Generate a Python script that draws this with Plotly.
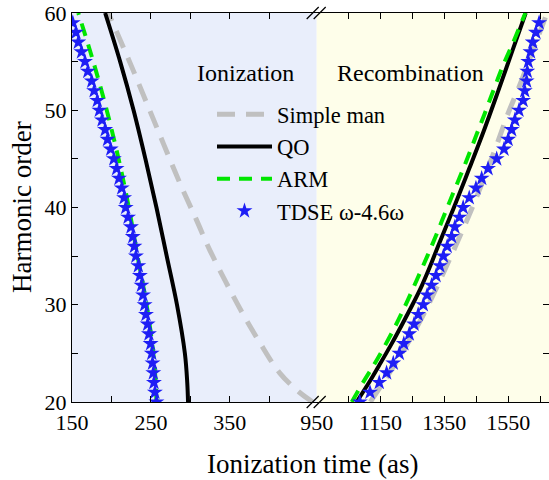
import plotly.graph_objects as go

# ---------------- data ----------------
tdse_orders = list(range(20, 60))
tdse_ion = [257, 255, 253.8, 253, 252, 251, 249.6, 247.5, 245.8, 243.7,
            242, 240, 238, 236, 234, 231, 229, 227, 224.7, 221,
            218, 216, 213, 209.5, 206.5, 203, 199, 195, 192, 188,
            184.6, 182, 178, 175, 170, 166.5, 162, 158, 155, 151]
tdse_rec = [1085, 1117, 1146, 1169, 1190, 1209, 1223, 1240, 1255, 1268,
            1284, 1296, 1310, 1324, 1336, 1347, 1359, 1373, 1383, 1397,
            1409, 1428, 1449, 1467, 1487, 1514, 1537, 1550, 1561, 1571,
            1584, 1597, 1602, 1608, 1610, 1613, 1620, 1627, 1637, 1647]

qo_ion_orders = [20, 22, 25, 30, 35, 40, 45, 50, 55, 60]
qo_ion = [297, 296, 293, 283, 270, 257, 243, 228, 211, 192]
qo_rec_orders = [20, 22, 24, 26, 28, 30, 32, 34, 36, 40, 44, 48, 52, 56, 60]
qo_rec = [1075, 1114, 1150, 1185, 1218, 1250, 1280, 1306, 1330, 1380, 1428, 1475, 1519, 1562, 1605]

arm_ion_orders = [20, 22, 25, 30, 35, 40, 45, 50, 55, 60]
arm_ion = [257, 256, 253, 244.5, 233, 222, 209, 194, 177, 158]
arm_rec_orders = [20, 22, 24.3, 27.4, 29.8, 32.5, 35.1, 37.2, 39.9, 42.3, 44.7, 47.5, 49.7, 52.4, 54.6, 57, 60]
arm_rec = [1060, 1095, 1138, 1190, 1226, 1263, 1298, 1325, 1358, 1388, 1418, 1451, 1477, 1508, 1534, 1566, 1604]

sm_ion_orders = [20, 21, 23, 26.1, 29.3, 35.6, 38.7, 42.5, 48.7, 54.9, 60]
sm_ion = [455, 438, 413, 388, 364.8, 324.7, 307.8, 286.7, 255, 223.4, 196]
sm_rec_orders = [20, 23.6, 26.7, 29.6, 33.2, 39.8, 45.9, 49.7, 52.4, 56.2, 60]
sm_rec = [1118, 1190, 1247, 1294, 1346, 1435, 1508, 1550, 1584, 1628, 1672]

x1_ticks = [150, 200, 250, 300, 350, 400]
x1_labels = ["150", "", "250", "", "350", ""]
x2_ticks = [950, 1050, 1150, 1250, 1350, 1450, 1550, 1650]
x2_labels = ["950", "", "1150", "", "1350", "", "1550", ""]
y_ticks = [20, 25, 30, 35, 40, 45, 50, 55, 60]
y_labels = ["20", "", "30", "", "40", "", "50", "", "60"]

# ---------------- style ----------------
FONT = "Times New Roman, Liberation Serif, Tinos, DejaVu Serif, serif"
GRAY = "#C0C0C0"
GREEN = "#00E600"
BLUE = "#1E1EF5"

fig = go.Figure()

# left panel (ionization)
fig.add_trace(go.Scatter(x=sm_ion, y=sm_ion_orders, mode="lines", name="Simple man",
                         line=dict(color=GRAY, width=5, dash="18px,11px", shape="spline"),
                         xaxis="x", yaxis="y", legendgroup="sm"))
fig.add_trace(go.Scatter(x=qo_ion, y=qo_ion_orders, mode="lines", name="QO",
                         line=dict(color="black", width=4, shape="spline"),
                         xaxis="x", yaxis="y", legendgroup="qo"))
fig.add_trace(go.Scatter(x=arm_ion, y=arm_ion_orders, mode="lines", name="ARM",
                         line=dict(color=GREEN, width=4, dash="13px,9px", shape="spline"),
                         xaxis="x", yaxis="y", legendgroup="arm"))
fig.add_trace(go.Scatter(x=tdse_ion, y=tdse_orders, mode="markers", name="TDSE ω-4.6ω",
                         marker=dict(symbol="star", size=12, color=BLUE, line=dict(width=0)),
                         xaxis="x", yaxis="y", legendgroup="tdse"))

# right panel (recombination)
fig.add_trace(go.Scatter(x=sm_rec, y=sm_rec_orders, mode="lines", showlegend=False,
                         line=dict(color=GRAY, width=5, dash="18px,11px", shape="spline"),
                         xaxis="x2", yaxis="y2", legendgroup="sm"))
fig.add_trace(go.Scatter(x=qo_rec, y=qo_rec_orders, mode="lines", showlegend=False,
                         line=dict(color="black", width=4, shape="spline"),
                         xaxis="x2", yaxis="y2", legendgroup="qo"))
fig.add_trace(go.Scatter(x=arm_rec, y=arm_rec_orders, mode="lines", showlegend=False,
                         line=dict(color=GREEN, width=4, dash="13px,9px", shape="spline"),
                         xaxis="x2", yaxis="y2", legendgroup="arm"))
fig.add_trace(go.Scatter(x=tdse_rec, y=tdse_orders, mode="markers", showlegend=False,
                         marker=dict(symbol="star", size=12, color=BLUE, line=dict(width=0)),
                         xaxis="x2", yaxis="y2", legendgroup="tdse"))

split = 0.513
axis_common = dict(showline=True, linecolor="black", linewidth=1.3, ticks="inside",
                   ticklen=6, tickwidth=1.3, tickcolor="black", showgrid=False,
                   zeroline=False, ticklabeloverflow="allow",
                   tickfont=dict(family=FONT, size=22, color="black"))

fig.update_layout(
    width=549, height=480,
    margin=dict(l=72, r=0, t=13, b=78),
    paper_bgcolor="white", plot_bgcolor="white",
    font=dict(family=FONT, color="black"),
    xaxis=dict(domain=[0, split], range=[150, 460], anchor="y", mirror="ticks",
               tickmode="array", tickvals=x1_ticks, ticktext=x1_labels, **axis_common),
    xaxis2=dict(domain=[split, 1], range=[950, 1678], anchor="y2", mirror="ticks",
                tickmode="array", tickvals=x2_ticks, ticktext=x2_labels, **axis_common),
    yaxis=dict(domain=[0, 1], range=[20, 60], anchor="x",
               tickmode="array", tickvals=y_ticks, ticktext=y_labels, **axis_common),
    yaxis2=dict(domain=[0, 1], range=[20, 60], anchor="x2", side="right",
                tickmode="array", tickvals=y_ticks, showticklabels=False,
                **{k: v for k, v in axis_common.items() if k != "tickfont"}),
    showlegend=True,
    legend=dict(x=(212 - 72) / 477, xanchor="left", y=1 - (93 - 13) / 389, yanchor="top",
                bgcolor="rgba(0,0,0,0)", font=dict(family=FONT, size=22.5, color="black"),
                itemwidth=55, tracegroupgap=0),
    shapes=[
        dict(type="rect", xref="x domain", yref="y domain", x0=0, x1=1, y0=0, y1=1,
             fillcolor="#E9EEFB", line=dict(width=0), layer="below"),
        dict(type="rect", xref="x2 domain", yref="y2 domain", x0=0, x1=1, y0=0, y1=1,
             fillcolor="#FEFEEA", line=dict(width=0), layer="below"),
    ],
    annotations=[
        dict(text="Ionization", xref="paper", yref="paper", x=(245 - 72) / 477, y=1 - (73 - 13) / 389,
             showarrow=False, font=dict(family=FONT, size=24, color="black"), xanchor="center", yanchor="middle"),
        dict(text="Recombination", xref="paper", yref="paper", x=(410 - 72) / 477, y=1 - (73 - 13) / 389,
             showarrow=False, font=dict(family=FONT, size=24, color="black"), xanchor="center", yanchor="middle"),
        dict(text="Ionization time (as)", xref="paper", yref="paper", x=(312 - 72) / 477, y=-(464 - 402) / 389,
             showarrow=False, font=dict(family=FONT, size=27, color="black"), xanchor="center", yanchor="middle"),
        dict(text="Harmonic order", xref="paper", yref="paper", x=-(72 - 22) / 477, y=1 - (207 - 13) / 389,
             showarrow=False, textangle=-90, font=dict(family=FONT, size=27, color="black"),
             xanchor="center", yanchor="middle"),
    ],
)

# axis-break marks "//" at the bottom and top of the split
for yy in (0, 1):
    for dx in (-4, 3):
        fig.add_shape(type="line", xref="paper", yref="paper",
                      xsizemode="pixel", ysizemode="pixel",
                      xanchor=split, yanchor=yy,
                      x0=dx - 6, x1=dx + 6, y0=-6, y1=6,
                      line=dict(color="black", width=1.2))

# remove the browser's default 8px body margin so the 549x480 figure fills the window
fig.write_html("out.html", config={"displayModeBar": False},
               post_script="document.body.style.margin='0px';")
